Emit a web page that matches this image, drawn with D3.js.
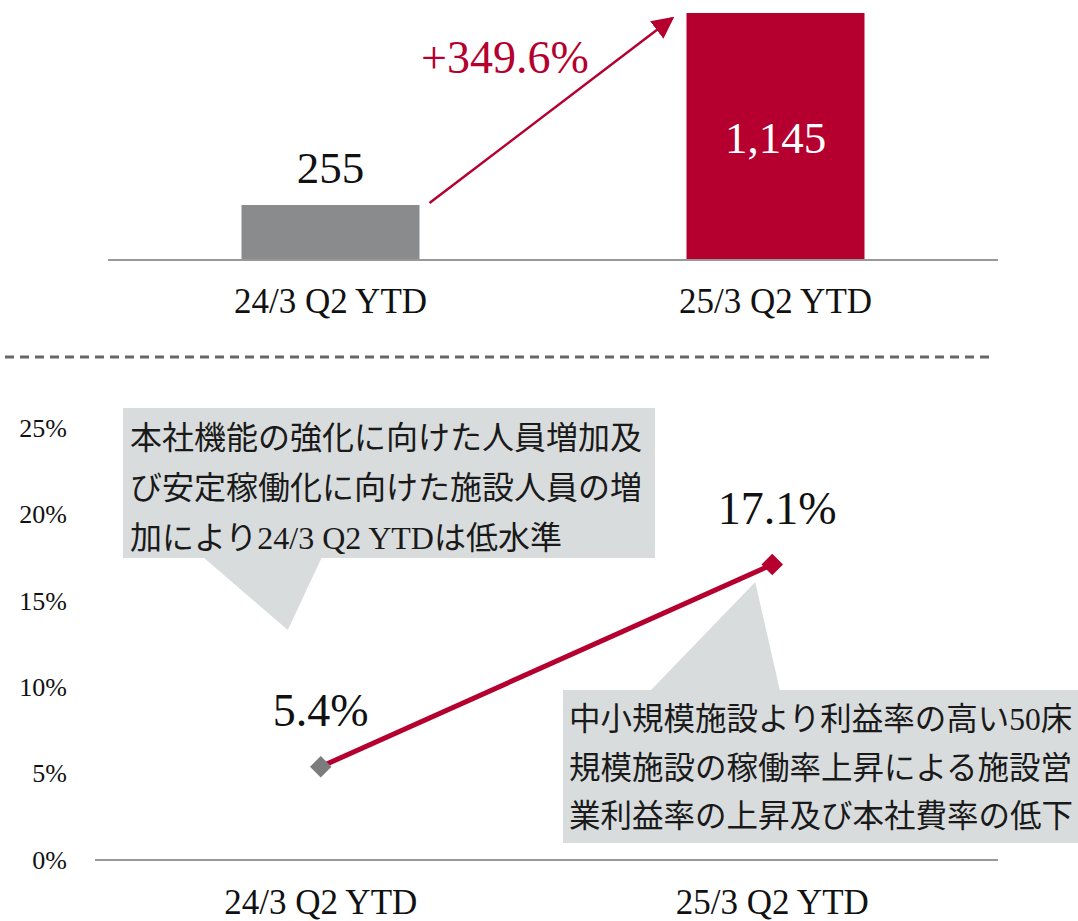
<!DOCTYPE html>
<html>
<head>
<meta charset="utf-8">
<script src="https://cdn.jsdelivr.net/npm/d3@7"></script>
<style>
  body { margin: 0; background: #fff; }
  svg { display: block; font-family: "Liberation Serif", "DejaVu Serif", "Noto Sans CJK JP", serif; }
</style>
</head>
<body>
<svg id="chart" width="1078" height="921"></svg>
<script>
// data
var periods = ["24/3 Q2 YTD", "25/3 Q2 YTD"];
var profit = [255, 1145];
var profitLabels = ["255", "1,145"];
var growthLabel = "+349.6%";
var margins = [5.4, 17.1];
var marginLabels = ["5.4%", "17.1%"];
var marginTicks = [0, 5, 10, 15, 20, 25];
var note1 = ["本社機能の強化に向けた人員増加及", "び安定稼働化に向けた施設人員の増", "加により24/3 Q2 YTDは低水準"];
var note2 = ["中小規模施設より利益率の高い50床", "規模施設の稼働率上昇による施設営", "業利益率の上昇及び本社費率の低下"];

var red = "#b5002f", grey = "#898b8d", boxFill = "#d9dcdd";

var svg = d3.select("#chart");

// ---- top: bar chart ----
var x1 = d3.scaleBand()
    .domain(periods)
    .range([108, 998])
    .paddingInner(0.6)
    .paddingOuter(0.3);

var y1 = d3.scaleLinear()
    .domain([0, 1145])
    .range([260, 13]);

var barG = svg.append("g");

barG.selectAll("rect.bar")
    .data(periods)
    .enter()
    .append("rect")
    .attr("class", "bar")
    .attr("x", d => x1(d))
    .attr("y", (d, i) => y1(profit[i]))
    .attr("width", x1.bandwidth())
    .attr("height", (d, i) => y1(0) - y1(profit[i]))
    .attr("fill", (d, i) => i == 0 ? grey : red);

barG.append("line")
    .attr("x1", 108).attr("x2", 998)
    .attr("y1", y1(0)).attr("y2", y1(0))
    .attr("stroke", "#999").attr("stroke-width", 2);

// value labels
barG.append("text")
    .attr("x", x1(periods[0]) + x1.bandwidth() / 2)
    .attr("y", y1(profit[0]) - 22)
    .attr("text-anchor", "middle")
    .attr("font-size", 45)
    .attr("fill", "#111")
    .text(profitLabels[0]);

barG.append("text")
    .attr("x", x1(periods[1]) + x1.bandwidth() / 2)
    .attr("y", y1(profit[1] / 2) + 16)
    .attr("text-anchor", "middle")
    .attr("font-size", 45)
    .attr("fill", "#fff")
    .text(profitLabels[1]);

// category labels
barG.selectAll("text.cat")
    .data(periods)
    .enter()
    .append("text")
    .attr("class", "cat")
    .attr("x", d => x1(d) + x1.bandwidth() / 2)
    .attr("y", 313)
    .attr("text-anchor", "middle")
    .attr("font-size", 35)
    .attr("fill", "#111")
    .text(d => d);

// growth arrow
svg.append("defs").append("marker")
    .attr("id", "head")
    .attr("viewBox", "0 0 10 10")
    .attr("refX", 9).attr("refY", 5)
    .attr("markerWidth", 22).attr("markerHeight", 22)
    .attr("markerUnits", "userSpaceOnUse")
    .attr("orient", "auto")
    .append("path")
    .attr("d", "M0,0 L10,5 L0,10 z")
    .attr("fill", red);

var ax0 = x1(periods[0]) + x1.bandwidth() + 10;
var ax1 = x1(periods[1]) - 14;
barG.append("line")
    .attr("x1", ax0).attr("y1", y1(profit[0]) - 2)
    .attr("x2", ax1).attr("y2", y1(profit[1]) + 5)
    .attr("stroke", red).attr("stroke-width", 2.5)
    .attr("marker-end", "url(#head)");

barG.append("text")
    .attr("x", 505)
    .attr("y", 73)
    .attr("text-anchor", "middle")
    .attr("font-size", 46)
    .attr("fill", red)
    .text(growthLabel);

// separator
svg.append("line")
    .attr("x1", 5).attr("x2", 993)
    .attr("y1", 357).attr("y2", 357)
    .attr("stroke", "#666").attr("stroke-width", 3)
    .attr("stroke-dasharray", "9,6");

// ---- bottom: margin line chart ----
var x2 = d3.scalePoint()
    .domain(periods)
    .range([95, 998])
    .padding(0.5);

var y2 = d3.scaleLinear()
    .domain([0, 25])
    .range([860, 428]);

var lineG = svg.append("g");

lineG.append("line")
    .attr("x1", 95).attr("x2", 998)
    .attr("y1", y2(0)).attr("y2", y2(0))
    .attr("stroke", "#999").attr("stroke-width", 2);

var yAxis = lineG.append("g")
    .attr("transform", "translate(67,0)")
    .call(d3.axisLeft(y2).tickValues(marginTicks).tickSize(0).tickPadding(0).tickFormat(d => d + "%"));
yAxis.select(".domain").remove();
yAxis.attr("font-family", null);
yAxis.selectAll("text")
    .attr("font-size", 26)
    .attr("fill", "#111");

lineG.selectAll("text.cat")
    .data(periods)
    .enter()
    .append("text")
    .attr("class", "cat")
    .attr("x", d => x2(d))
    .attr("y", 914)
    .attr("text-anchor", "middle")
    .attr("font-size", 35)
    .attr("fill", "#111")
    .text(d => d);

// callouts
function callout(g, bx, by, bw, bh, tri, lines, tx, ty, gap, fs) {
    g.append("path")
        .attr("d", "M" + tri.map(p => p.join(",")).join("L") + "Z")
        .attr("fill", boxFill);
    g.append("rect")
        .attr("x", bx).attr("y", by)
        .attr("width", bw).attr("height", bh)
        .attr("fill", boxFill);
    g.selectAll(null)
        .data(lines)
        .enter()
        .append("text")
        .attr("x", tx)
        .attr("y", (d, i) => ty + i * gap)
        .attr("font-size", fs)
        .attr("fill", "#1a1a1a")
        .text(d => d);
}

var p0 = [x2(periods[0]), y2(margins[0])];
var p1 = [x2(periods[1]), y2(margins[1])];

callout(lineG, 123, 408, 532, 150,
    [[203, 557], [322, 557], [p0[0] - 33, 630]],
    note1, 130, 449, 50, 32);

callout(lineG, 563, 690, 515, 153,
    [[650, 691], [780, 691], [p1[0] - 17, 582]],
    note2, 569, 730, 48.5, 31.5);

// line
lineG.append("path")
    .datum(margins)
    .attr("d", d3.line().x((d, i) => x2(periods[i])).y(d => y2(d)))
    .attr("fill", "none")
    .attr("stroke", red)
    .attr("stroke-width", 5);

lineG.selectAll("path.pt")
    .data(margins)
    .enter()
    .append("path")
    .attr("class", "pt")
    .attr("d", d3.symbol().type(d3.symbolSquare).size(230))
    .attr("transform", (d, i) => "translate(" + x2(periods[i]) + "," + y2(d) + ") rotate(45)")
    .attr("fill", (d, i) => i == 0 ? "#7a7c7e" : red);

lineG.selectAll("text.val")
    .data(margins)
    .enter()
    .append("text")
    .attr("class", "val")
    .attr("x", (d, i) => x2(periods[i]) + (i == 0 ? 0 : 5))
    .attr("y", d => y2(d) - 41)
    .attr("text-anchor", "middle")
    .attr("font-size", 46)
    .attr("fill", "#111")
    .text((d, i) => marginLabels[i]);
</script>
</body>
</html>
